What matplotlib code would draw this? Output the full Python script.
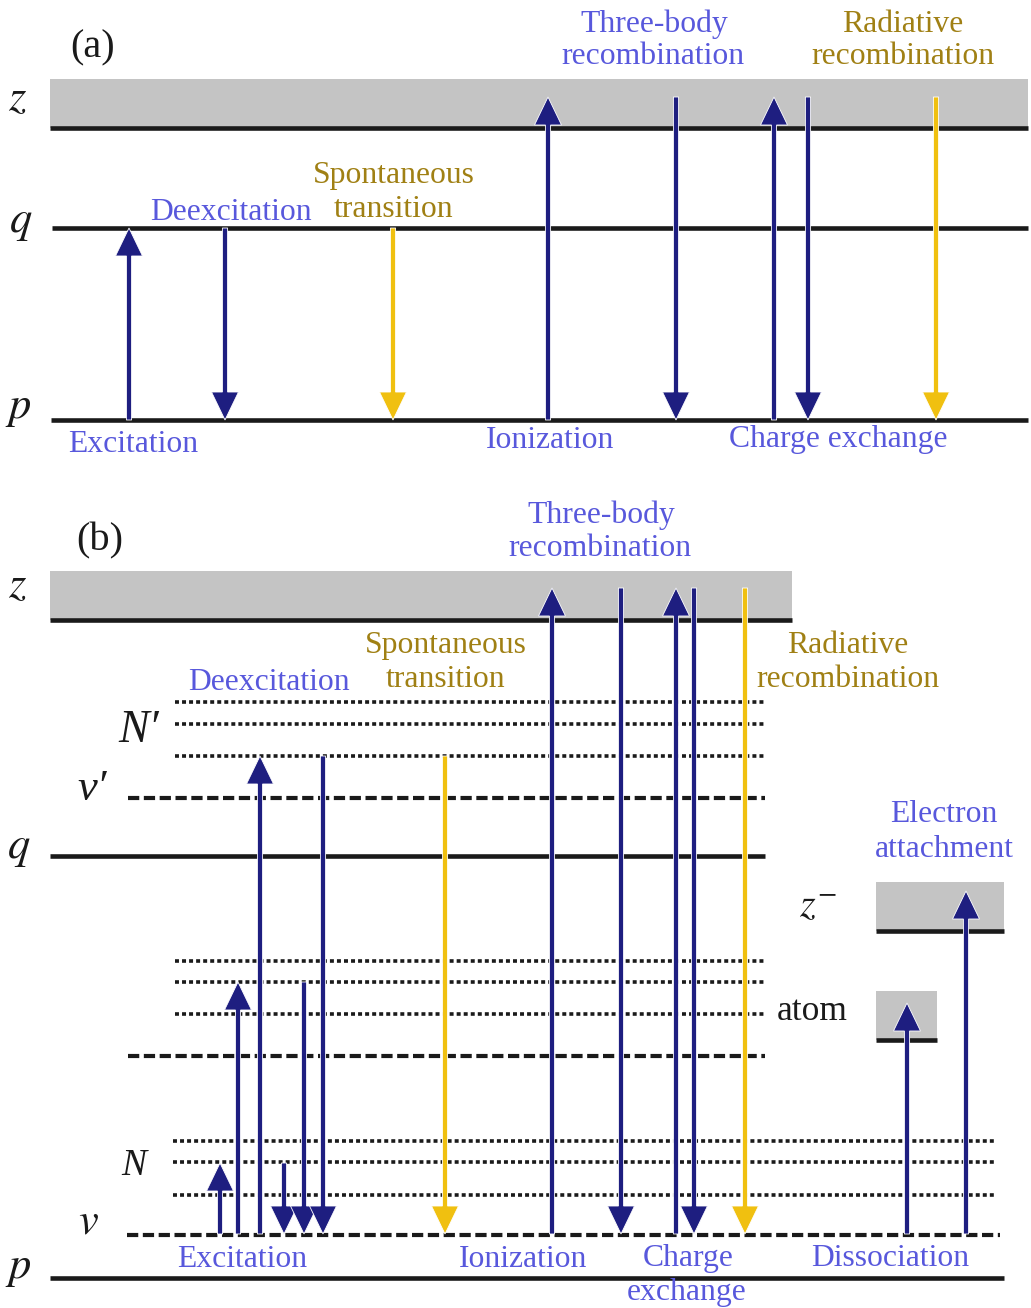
import matplotlib.pyplot as plt
import matplotlib.patches as mpatches

plt.rcParams['mathtext.fontset'] = 'stix'

NAVY = '#1e1e80'
YELLOW = '#f0c010'
BLUE_TXT = '#5858dc'
GOLD_TXT = '#a08014'
GRAY = '#c4c4c4'
BLACK = '#1a1a1a'

# ---- panel (a): levels ----
a_bands = [(50, 1028, 79, 128)]                 # x0, x1, top, bottom
a_level_y = [128, 228, 420]
a_level_x0 = [50, 52, 51]
a_level_x1 = [1028, 1028, 1028]

a_sym = ['$z$', '$q$', '$p$']
a_sym_x = [18, 21, 18]
a_sym_y = [110, 232, 418]

# ---- panel (a): transitions ----
a_arrow_x = [129, 225, 393, 548, 676, 774, 808, 936]
a_arrow_from = [420, 228, 228, 420, 97, 420, 97, 97]
a_arrow_to = [228, 420, 420, 97, 420, 97, 420, 420]
a_arrow_kind = ['c', 'c', 'r', 'c', 'c', 'c', 'c', 'r']

a_text = ['(a)', 'Deexcitation', 'Spontaneous', 'transition', 'Three-body',
          'recombination', 'Radiative', 'recombination', 'Excitation',
          'Ionization', 'Charge exchange']
a_text_x = [93, 231, 394, 394, 654, 653, 903, 903, 133, 550, 838]
a_text_y = [57, 220, 183, 217, 32, 64, 32, 64, 452, 448, 447]
a_text_kind = ['k', 'c', 'r', 'r', 'c', 'c', 'r', 'r', 'c', 'c', 'c']

# ---- panel (b): levels ----
b_bands = [(50, 792, 571, 620), (876, 1004, 882, 931), (876, 937, 991, 1040)]
b_solid_y = [620, 856, 1278, 931, 1040]
b_solid_x0 = [50, 50, 50, 876, 876]
b_solid_x1 = [792, 765, 1004, 1004, 937]
b_dot_y = [702, 724, 756, 961, 982, 1014, 1141, 1162, 1195]
b_dot_x0 = [175, 175, 175, 175, 175, 175, 173, 173, 173]
b_dot_x1 = [765, 765, 765, 765, 765, 765, 994, 994, 994]
b_dash_y = [798, 1056, 1235]
b_dash_x0 = [128, 128, 127]
b_dash_x1 = [765, 765, 1000]

b_sym = ['$z$', 'N\u2032', 'v\u2032', '$q$', 'N', '$v$', '$p$', '$z^{-}$']
b_sym_x = [18, 139, 92, 19, 134, 88, 18, 818]
b_sym_y = [597, 742, 800, 858, 1175, 1233, 1278, 917]
b_sym_size = [32, 33, 32, 32, 27, 32, 32, 29]

# ---- panel (b): transitions ----
b_arrow_x = [220, 238, 260, 284, 304, 323, 445, 552, 621, 676, 694, 745, 907, 966]
b_arrow_from = [1234, 1234, 1234, 1163, 982, 756, 756, 1234, 588, 1234, 588, 588, 1234, 1234]
b_arrow_to = [1163, 982, 756, 1234, 1234, 1234, 1234, 588, 1234, 588, 1234, 1234, 1003, 891]
b_arrow_kind = ['c', 'c', 'c', 'c', 'c', 'c', 'r', 'c', 'c', 'c', 'c', 'r', 'c', 'c']

b_text = ['(b)', 'Three-body', 'recombination', 'Deexcitation', 'Spontaneous',
          'transition', 'Radiative', 'recombination', 'Electron', 'attachment',
          'Excitation', 'Ionization', 'Charge', 'exchange', 'Dissociation', 'atom']
b_text_x = [100, 601, 600, 269, 446, 446, 848, 848, 944, 944, 242, 523, 688, 687, 890, 812]
b_text_y = [550, 523, 556, 690, 653, 687, 653, 687, 822, 857, 1267, 1267, 1266, 1300, 1266, 1020]
b_text_kind = ['k', 'c', 'c', 'c', 'r', 'r', 'r', 'r', 'c', 'c', 'c', 'c', 'c', 'c', 'c', 'k']

arrow_col = {'c': NAVY, 'r': YELLOW}
text_col = {'c': BLUE_TXT, 'r': GOLD_TXT, 'k': BLACK}

fig = plt.figure(figsize=(10.31, 13.08), dpi=100)
ax = fig.add_axes([0, 0, 1, 1])
ax.set_xlim(0, 1031)
ax.set_ylim(1308, 0)
ax.axis('off')


def draw_band(x0, x1, top, bottom):
    ax.add_patch(mpatches.Rectangle((x0, top), x1 - x0, bottom - top,
                                    facecolor=GRAY, edgecolor='none', zorder=1))


def draw_arrow(x, y0, y1, kind):
    ax.arrow(x, y0, 0, y1 - y0, width=5.2, head_width=27, head_length=28,
             length_includes_head=True, facecolor=arrow_col[kind],
             edgecolor='white', linewidth=0.6, zorder=5)


serif = 'Liberation Serif'


def draw_sym(x, y, s, fs):
    if s.startswith('$'):
        ax.text(x, y, s, fontsize=fs, ha='center', va='baseline', color=BLACK)
    else:
        ax.text(x, y, s, fontsize=fs, family=serif, style='italic',
                ha='center', va='baseline', color=BLACK)


# panel (a)
for x0, x1, t, b in a_bands:
    draw_band(x0, x1, t, b)
for y, x0, x1 in zip(a_level_y, a_level_x0, a_level_x1):
    ax.plot([x0, x1], [y, y], color=BLACK, lw=3.3, solid_capstyle='butt', zorder=2)
for s, x, y in zip(a_sym, a_sym_x, a_sym_y):
    draw_sym(x, y, s, 32)
for x, y0, y1, k in zip(a_arrow_x, a_arrow_from, a_arrow_to, a_arrow_kind):
    draw_arrow(x, y0, y1, k)
for t, x, y, k in zip(a_text, a_text_x, a_text_y, a_text_kind):
    fs = 29 if t.startswith('(') else 22.8
    ax.text(x, y, t, fontsize=fs, family=serif, ha='center', va='baseline',
            color=text_col[k])

# panel (b)
for x0, x1, t, b in b_bands:
    draw_band(x0, x1, t, b)
for y, x0, x1 in zip(b_solid_y, b_solid_x0, b_solid_x1):
    ax.plot([x0, x1], [y, y], color=BLACK, lw=3.3, solid_capstyle='butt', zorder=2)
for y, x0, x1 in zip(b_dot_y, b_dot_x0, b_dot_x1):
    ax.plot([x0, x1], [y, y], color=BLACK, lw=2.6, linestyle=(0, (1.1, 0.85)),
            dash_capstyle='butt', zorder=2)
for y, x0, x1 in zip(b_dash_y, b_dash_x0, b_dash_x1):
    ax.plot([x0, x1], [y, y], color=BLACK, lw=3.0, linestyle=(0, (2.7, 1.1)),
            dash_capstyle='butt', zorder=2)
for s, x, y, fs in zip(b_sym, b_sym_x, b_sym_y, b_sym_size):
    draw_sym(x, y, s, fs)
for x, y0, y1, k in zip(b_arrow_x, b_arrow_from, b_arrow_to, b_arrow_kind):
    draw_arrow(x, y0, y1, k)
for t, x, y, k in zip(b_text, b_text_x, b_text_y, b_text_kind):
    if t.startswith('('):
        fs = 29
    elif t == 'atom':
        fs = 25.5
    else:
        fs = 22.8
    ax.text(x, y, t, fontsize=fs, family=serif, ha='center', va='baseline',
            color=text_col[k])

fig.savefig('out.png', dpi=100)
